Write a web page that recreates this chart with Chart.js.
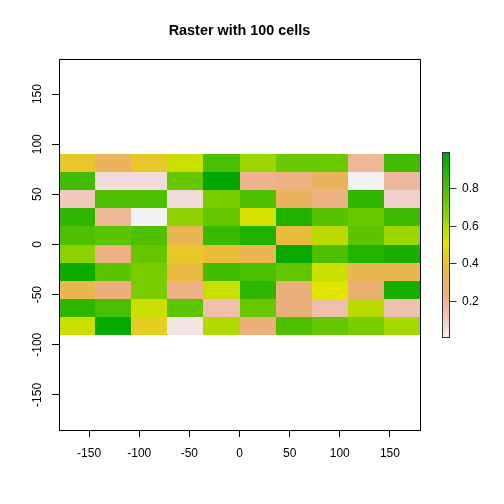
<!DOCTYPE html>
<html>
<head>
<meta charset="utf-8">
<script src="https://cdn.jsdelivr.net/npm/chart.js@4"></script>
<style>
  html, body { margin: 0; padding: 0; background: #fff; }
  #c { display: block; }
</style>
</head>
<body>
<canvas id="c" width="504" height="504"></canvas>
<script>
// ---- raster definition ----
const titleText = "Raster with 100 cells";
const rasterExtent = [-180, 180, -90, 90]; // xmin, xmax, ymin, ymax
const nCols = 10;
const nRows = 10;
// cell values, row by row from the top row (y = 90) to the bottom row (y = -90)
const row1  = [0.42, 0.31, 0.42, 0.55, 0.80, 0.63, 0.73, 0.73, 0.19, 0.82];
const row2  = [0.82, 0.06, 0.06, 0.74, 0.99, 0.21, 0.23, 0.31, 0.012, 0.18];
const row3  = [0.11, 0.79, 0.79, 0.06, 0.70, 0.79, 0.31, 0.23, 0.86, 0.09];
const row4  = [0.86, 0.19, 0.01, 0.66, 0.74, 0.53, 0.905, 0.77, 0.73, 0.83];
const row5  = [0.79, 0.76, 0.79, 0.34, 0.84, 0.905, 0.38, 0.575, 0.76, 0.63];
const row6  = [0.66, 0.23, 0.74, 0.42, 0.38, 0.34, 0.97, 0.79, 0.895, 0.915];
const row7  = [0.95, 0.76, 0.70, 0.37, 0.815, 0.80, 0.75, 0.555, 0.34, 0.34];
const row8  = [0.34, 0.25, 0.70, 0.23, 0.555, 0.87, 0.25, 0.51, 0.27, 0.925];
const row9  = [0.87, 0.80, 0.555, 0.76, 0.15, 0.73, 0.25, 0.15, 0.575, 0.14];
const row10 = [0.555, 0.97, 0.44, 0.04, 0.594, 0.25, 0.79, 0.74, 0.70, 0.61];
const rows = [row1, row2, row3, row4, row5, row6, row7, row8, row9, row10];
// axis ticks
const xTicks = [-150, -100, -50, 0, 50, 100, 150];
const yTicks = [-150, -100, -50, 0, 50, 100, 150];
const legendTicks = [0.2, 0.4, 0.6, 0.8];
const xRange = [-180, 180];
const yRange = [-185, 185];

// ---- palette: rev(terrain.colors(255)) ----
function hsv2rgb(h, s, v) {
  const i = Math.floor(h * 6);
  const f = h * 6 - i;
  const p = v * (1 - s), q = v * (1 - f * s), t = v * (1 - (1 - f) * s);
  let r, g, b;
  switch (((i % 6) + 6) % 6) {
    case 0: r = v; g = t; b = p; break;
    case 1: r = q; g = v; b = p; break;
    case 2: r = p; g = v; b = t; break;
    case 3: r = p; g = q; b = v; break;
    case 4: r = t; g = p; b = v; break;
    default: r = v; g = p; b = q;
  }
  return 'rgb(' + Math.round(r * 255) + ',' + Math.round(g * 255) + ',' + Math.round(b * 255) + ')';
}
function seq(a, b, n) {
  if (n === 1) return [a];
  const out = [];
  for (let i = 0; i < n; i++) out.push(a + (b - a) * i / (n - 1));
  return out;
}
function terrainColors(n) {
  const k = Math.floor(n / 2);
  const cols = [];
  const h1 = seq(4 / 12, 2 / 12, k), v1 = seq(0.65, 0.9, k);
  for (let i = 0; i < k; i++) cols.push(hsv2rgb(h1[i], 1, v1[i]));
  const m = n - k + 1;
  const h2 = seq(2 / 12, 0, m).slice(1), s2 = seq(1, 0, m).slice(1), v2 = seq(0.9, 0.95, m).slice(1);
  for (let i = 0; i < n - k; i++) cols.push(hsv2rgb(h2[i], s2[i], v2[i]));
  return cols;
}
const palette = terrainColors(255).reverse();
const allVals = rows.flat();
const dMin = Math.min(...allVals);
const dMax = Math.max(...allVals);
function colorFor(v) {
  let idx = Math.floor((v - dMin) / (dMax - dMin) * palette.length);
  idx = Math.max(0, Math.min(palette.length - 1, idx));
  return palette[idx];
}
// legend scale spans chart area; data range occupies its middle half
const legPad = 0.5028 * (dMax - dMin);

const FONT = "'Liberation Sans', Arial, Helvetica, sans-serif";

const rasterPlugin = {
  id: 'raster',
  beforeDatasetsDraw(chart) {
    const ctx = chart.ctx;
    const xs = chart.scales.x, ys = chart.scales.y;
    const [xmin, xmax, ymin, ymax] = rasterExtent;
    const dx = (xmax - xmin) / nCols, dy = (ymax - ymin) / nRows;
    ctx.save();
    for (let r = 0; r < nRows; r++) {
      for (let c = 0; c < nCols; c++) {
        const x0 = Math.round(xs.getPixelForValue(xmin + c * dx));
        const x1 = Math.round(xs.getPixelForValue(xmin + (c + 1) * dx));
        const y0 = Math.round(ys.getPixelForValue(ymax - r * dy));
        const y1 = Math.round(ys.getPixelForValue(ymax - (r + 1) * dy));
        ctx.fillStyle = colorFor(rows[r][c]);
        ctx.fillRect(x0, y0, x1 - x0, y1 - y0);
      }
    }
    ctx.restore();
  },
  afterDraw(chart) {
    const ctx = chart.ctx;
    const a = chart.chartArea;
    ctx.save();
    // plot box
    ctx.strokeStyle = '#000';
    ctx.lineWidth = 1;
    ctx.strokeRect(Math.round(a.left) + 0.5, Math.round(a.top) + 0.5,
                   Math.round(a.right - a.left), Math.round(a.bottom - a.top));
    // rotated y tick labels
    const ys = chart.scales.y;
    ctx.fillStyle = '#000';
    ctx.font = '12px ' + FONT;
    ctx.textAlign = 'center';
    ctx.textBaseline = 'middle';
    ys.ticks.forEach(t => {
      const py = ys.getPixelForValue(t.value);
      ctx.save();
      ctx.translate(ys.right - 21.3, py);
      ctx.rotate(-Math.PI / 2);
      ctx.fillText(String(t.value), 0, 0);
      ctx.restore();
    });
    // colour legend
    const cs = chart.scales.c;
    const bx0 = cs.left + 22.5, bx1 = cs.left + 29.5;
    const yb = cs.getPixelForValue(dMin), yt = cs.getPixelForValue(dMax);
    const n = palette.length;
    for (let i = 0; i < n; i++) {
      const v0 = dMin + (dMax - dMin) * i / n;
      const v1 = dMin + (dMax - dMin) * (i + 1) / n;
      const p0 = cs.getPixelForValue(v0), p1 = cs.getPixelForValue(v1);
      ctx.fillStyle = palette[i];
      ctx.fillRect(bx0, p1, bx1 - bx0, p0 - p1 + 0.6);
    }
    ctx.strokeStyle = '#333';
    ctx.lineWidth = 1;
    ctx.strokeRect(bx0, Math.round(yt) + 0.5, bx1 - bx0, Math.round(yb - yt));
    ctx.textAlign = 'left';
    ctx.fillStyle = '#000';
    legendTicks.forEach(t => {
      const py = Math.round(cs.getPixelForValue(t)) + 0.5;
      ctx.beginPath();
      ctx.moveTo(bx1, py);
      ctx.lineTo(bx1 + 7, py);
      ctx.stroke();
      ctx.fillText(String(t), bx1 + 12.5, py);
    });
    ctx.restore();
  }
};

new Chart(document.getElementById('c'), {
  type: 'scatter',
  data: { datasets: [{ data: [], pointRadius: 0 }] },
  plugins: [rasterPlugin],
  options: {
    responsive: false,
    animation: false,
    layout: { padding: { left: 0, right: 25, top: 0, bottom: 0 } },
    plugins: {
      legend: { display: false },
      tooltip: { enabled: false },
      title: {
        display: true,
        text: titleText,
        color: '#000',
        font: { family: FONT, size: 14.4, weight: 'bold' },
        padding: { top: 22, bottom: 19.72 }
      }
    },
    scales: {
      x: {
        type: 'linear', position: 'bottom', min: xRange[0], max: xRange[1],
        afterBuildTicks: s => { s.ticks = xTicks.map(v => ({ value: v })); },
        afterFit: s => { s.height = 74; },
        ticks: { color: '#000', font: { family: FONT, size: 12 }, padding: 9, maxRotation: 0, autoSkip: false,
                 callback: v => String(v) },
        grid: { drawOnChartArea: false, drawTicks: true, tickLength: 7, color: '#000', tickColor: '#000' },
        border: { display: true, color: '#000' }
      },
      y: {
        type: 'linear', position: 'left', min: yRange[0], max: yRange[1],
        afterBuildTicks: s => { s.ticks = yTicks.map(v => ({ value: v })); },
        afterFit: s => { s.width = 59; },
        ticks: { display: false },
        grid: { drawOnChartArea: false, drawTicks: true, tickLength: 7, color: '#000', tickColor: '#000' },
        border: { display: true, color: '#000' }
      },
      c: {
        type: 'linear', position: 'right', min: dMin - legPad, max: dMax + legPad,
        afterFit: s => { s.width = 59; },
        ticks: { display: false },
        grid: { display: false },
        border: { display: false }
      }
    }
  }
});
</script>
</body>
</html>
